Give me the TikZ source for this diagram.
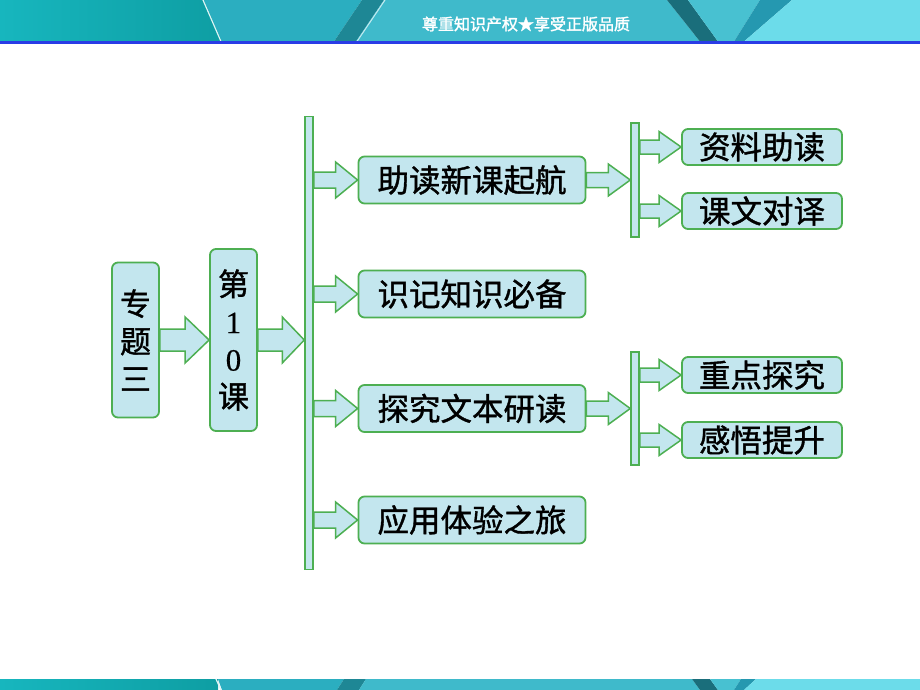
\documentclass[tikz,border=0pt]{standalone}
\usepackage{fontspec}
\newfontfamily\cjk[FakeBold=1.2]{Noto Sans CJK SC}
\newfontfamily\cjkb[FakeBold=1.8]{Noto Sans CJK SC}
\newfontfamily\numf[FakeBold=0.6]{Liberation Serif}
\usetikzlibrary{calc}
\definecolor{boxfill}{HTML}{C3E6EE}
\definecolor{boxline}{HTML}{4DAF52}
\definecolor{bandA}{HTML}{17B6BE}
\definecolor{bandB}{HTML}{0E9EA3}
\definecolor{bandC}{HTML}{2BAEC0}
\definecolor{bandD}{HTML}{3FBACB}
\definecolor{bandE}{HTML}{6CDCEA}
\definecolor{stripeDark}{HTML}{1E8795}
\definecolor{stripeDeep}{HTML}{1A6E7B}
\definecolor{stripeMid}{HTML}{2598B0}
\definecolor{blueline}{HTML}{2A3CE6}
\tikzset{
  box/.style={draw=boxline, line width=1.8pt, fill=boxfill, rounded corners=6pt,
    inner sep=0pt, font=\cjk\fontsize{31.5}{32}\selectfont},
  vbox/.style={box, align=center, font=\cjk\fontsize{31}{37.5}\selectfont},
  barnode/.style={draw=boxline, line width=1.5pt, fill=boxfill, inner sep=0pt,
    minimum width=8pt},
  blk/.style={draw=boxline, line width=1.5pt, fill=boxfill, line join=miter},
}
% block arrow: #1 start, #2 tip, #3 shaft half height, #4 head half height, #5 head length (pt)
\newcommand\blockarrow[5]{%
  \path[blk] let \p1=(#1), \p2=(#2) in
    (\x1,\y2+#3pt) -- (\x2-#5pt,\y2+#3pt) -- (\x2-#5pt,\y2+#4pt) -- (\x2,\y2)
    -- (\x2-#5pt,\y2-#4pt) -- (\x2-#5pt,\y2-#3pt) -- (\x1,\y2-#3pt) -- cycle;}
\begin{document}
\begin{tikzpicture}[x=1pt,y=-1pt]
\useasboundingbox (0,0) rectangle (920,690);
\fill[white] (0,0) rectangle (920,690);

% ---------- top banner ----------
\shade[left color=bandA, right color=bandB] (0,0) rectangle (222,41.5);
\fill[bandC] (204,0) -- (362,0) -- (334,41.5) -- (222,41.5) -- cycle;
\fill[stripeDark] (362,0) -- (384,0) -- (356,41.5) -- (334,41.5) -- cycle;
\fill[bandD] (384,0) -- (667,0) -- (700,41.5) -- (356,41.5) -- cycle;
\fill[stripeDeep] (667,0) -- (688,0) -- (718,41.5) -- (700,41.5) -- cycle;
\fill[bandD!80!bandE] (688,0) -- (760,0) -- (734,41.5) -- (718,41.5) -- cycle;
\fill[stripeMid] (760,0) -- (792,0) -- (744,41.5) -- (734,41.5) -- cycle;
\fill[bandE] (792,0) -- (920,0) -- (920,41.5) -- (744,41.5) -- cycle;
\draw[white!85!bandA, line width=1.2pt] (203,0) -- (221,41.5);
\draw[white!70!bandD, line width=1pt] (385,0) -- (357,41.5);
\fill[blueline] (0,41.5) rectangle (920,44.5);
\node[text=white, font=\cjkb\fontsize{16}{16}\selectfont, inner sep=0pt] (banner) at (526,24)
  {尊重知识产权★享受正版品质};

% ---------- bottom banner ----------
\shade[left color=bandA, right color=bandB] (0,679) rectangle (218,690);
\fill[bandC] (218,679) -- (344,679) -- (337,690) -- (222,690) -- cycle;
\fill[stripeDark] (344,679) -- (366,679) -- (359,690) -- (337,690) -- cycle;
\fill[bandD] (366,679) -- (692,679) -- (700,690) -- (359,690) -- cycle;
\fill[stripeDeep] (692,679) -- (710,679) -- (718,690) -- (700,690) -- cycle;
\fill[bandD!80!bandE] (710,679) -- (741,679) -- (734,690) -- (718,690) -- cycle;
\fill[stripeMid] (741,679) -- (756,679) -- (744,690) -- (734,690) -- cycle;
\fill[bandE] (756,679) -- (920,679) -- (920,690) -- (744,690) -- cycle;
\draw[white!85!bandA, line width=1.2pt] (216,679) -- (221,690);

% ---------- level 1 ----------
\node[vbox, minimum width=47pt, minimum height=155pt] (t1) at (135.5,340) {专\\题\\三};
\node[vbox, minimum width=47pt, minimum height=182pt] (t2) at (233.5,340)
  {第\\{\numf 1}\\{\numf 0}\\课};
\node[barnode, minimum height=453pt] (bar) at (309,343) {};

% ---------- level 2 ----------
\node[box, minimum width=227pt, minimum height=47pt] (b1) at (472,180) {助读新课起航};
\node[box, minimum width=227pt, minimum height=47pt] (b2) at (472,294) {识记知识必备};
\node[box, minimum width=227pt, minimum height=47pt] (b3) at (472,408.5) {探究文本研读};
\node[box, minimum width=227pt, minimum height=47pt] (b4) at (472,520) {应用体验之旅};

\node[barnode, minimum height=114pt] (bara) at (635,180) {};
\node[barnode, minimum height=113pt] (barb) at (635,408.5) {};

% ---------- level 3 ----------
\node[box, minimum width=160pt, minimum height=36pt] (c1) at (762,147) {资料助读};
\node[box, minimum width=160pt, minimum height=36pt] (c2) at (762,211) {课文对译};
\node[box, minimum width=160pt, minimum height=36pt] (c3) at (762,375) {重点探究};
\node[box, minimum width=160pt, minimum height=36pt] (c4) at (762,440) {感悟提升};

% ---------- arrows ----------
\blockarrow{t1.east}{t2.west}{11}{23}{24}
\blockarrow{t2.east}{bar.west |- t2.east}{11}{23}{22}
\blockarrow{bar.east |- b1.west}{b1.west}{8}{18}{22}
\blockarrow{bar.east |- b2.west}{b2.west}{8}{18}{22}
\blockarrow{bar.east |- b3.west}{b3.west}{8}{18}{22}
\blockarrow{bar.east |- b4.west}{b4.west}{8}{18}{22}
\blockarrow{b1.east}{bara.west |- b1.east}{7.5}{16}{22}
\blockarrow{b3.east}{barb.west |- b3.east}{7.5}{16}{22}
\blockarrow{bara.east |- c1.west}{c1.west}{7}{15.5}{22}
\blockarrow{bara.east |- c2.west}{c2.west}{7}{15.5}{22}
\blockarrow{barb.east |- c3.west}{c3.west}{7}{15.5}{22}
\blockarrow{barb.east |- c4.west}{c4.west}{7}{15.5}{22}
\end{tikzpicture}
\end{document}
